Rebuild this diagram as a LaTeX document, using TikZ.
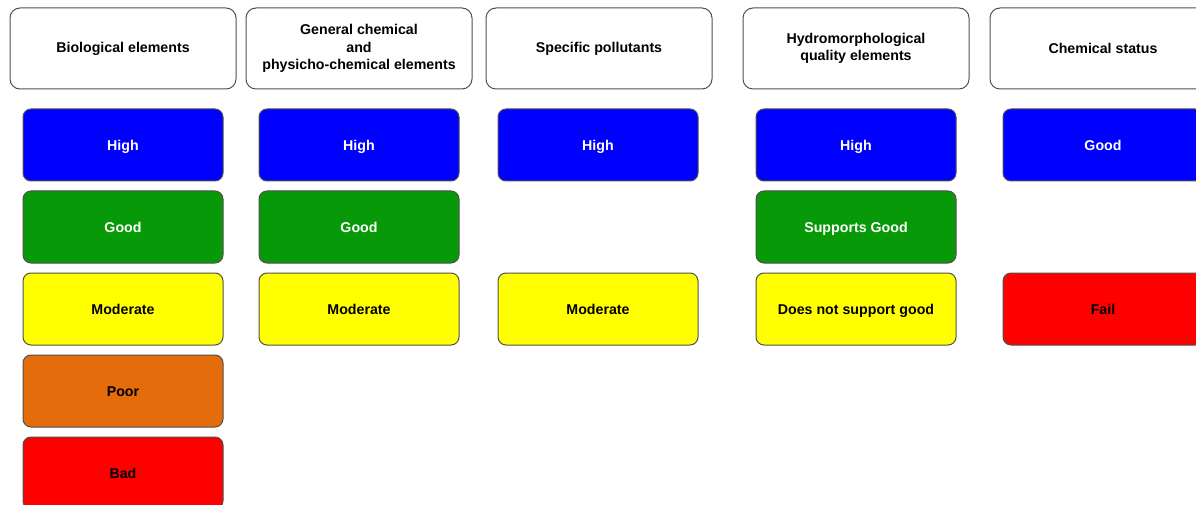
\documentclass[tikz,border=0pt]{standalone}
\usepackage{fontspec}
\setmainfont{Liberation Sans}
\definecolor{cblue}{HTML}{0000FF}
\definecolor{cgreen}{HTML}{079907}
\definecolor{cyellow}{HTML}{FFFF00}
\definecolor{corange}{HTML}{E46C0A}
\definecolor{cred}{HTML}{FF0000}
\definecolor{cborder}{HTML}{505050}
\begin{document}
\begin{tikzpicture}[x=1pt,y=-1pt,
  head/.style={draw=cborder, line width=1pt, fill=white, rounded corners=10pt,
    minimum width=226pt, minimum height=81pt, inner sep=0pt, outer sep=0pt,
    align=center, font=\fontsize{14.2}{17.5}\selectfont\bfseries},
  cell/.style={draw=cborder, line width=1pt, rounded corners=8pt,
    minimum width=200pt, minimum height=72pt, inner sep=0pt, outer sep=0pt,
    text height=10.2pt, text depth=0pt,
    font=\fontsize{14.2}{17}\selectfont\bfseries},
  hi/.style={cell, fill=cblue, text=white},
  gd/.style={cell, fill=cgreen, text=white},
  md/.style={cell, fill=cyellow, text=black},
  pr/.style={cell, fill=corange, text=black},
  bd/.style={cell, fill=cred, text=black}]
\useasboundingbox (0,0) rectangle (1196,505);
\clip (0,0) rectangle (1196,505);
\fill[white] (0,0) rectangle (1196,505);
% headers
\node[head] (h1) at (123,48.5) {Biological elements};
\node[head] (h2) at (359,48.5) {General chemical\\and\\physicho-chemical elements};
\node[head] (h3) at (599,48.5) {Specific pollutants};
\node[head] (h4) at (856,48.5) {Hydromorphological\\quality elements};
\node[head] (h5) at (1103,48.5) {Chemical status};
% column 1
\node[hi] (c1r1) at (123,145) {High};
\node[gd] (c1r2) at (123,227) {Good};
\node[md] (c1r3) at (123,309) {Moderate};
\node[pr] (c1r4) at (123,391) {Poor};
\node[bd] (c1r5) at (123,473) {Bad};
% column 2
\node[hi] (c2r1) at (359,145) {High};
\node[gd] (c2r2) at (359,227) {Good};
\node[md] (c2r3) at (359,309) {Moderate};
% column 3
\node[hi] (c3r1) at (598,145) {High};
\node[md] (c3r3) at (598,309) {Moderate};
% column 4
\node[hi] (c4r1) at (856,145) {High};
\node[gd] (c4r2) at (856,227) {Supports Good};
\node[md] (c4r3) at (856,309) {Does not support good};
% column 5
\node[hi] (c5r1) at (1103,145) {Good};
\node[bd] (c5r3) at (1103,309) {Fail};
\end{tikzpicture}
\end{document}
